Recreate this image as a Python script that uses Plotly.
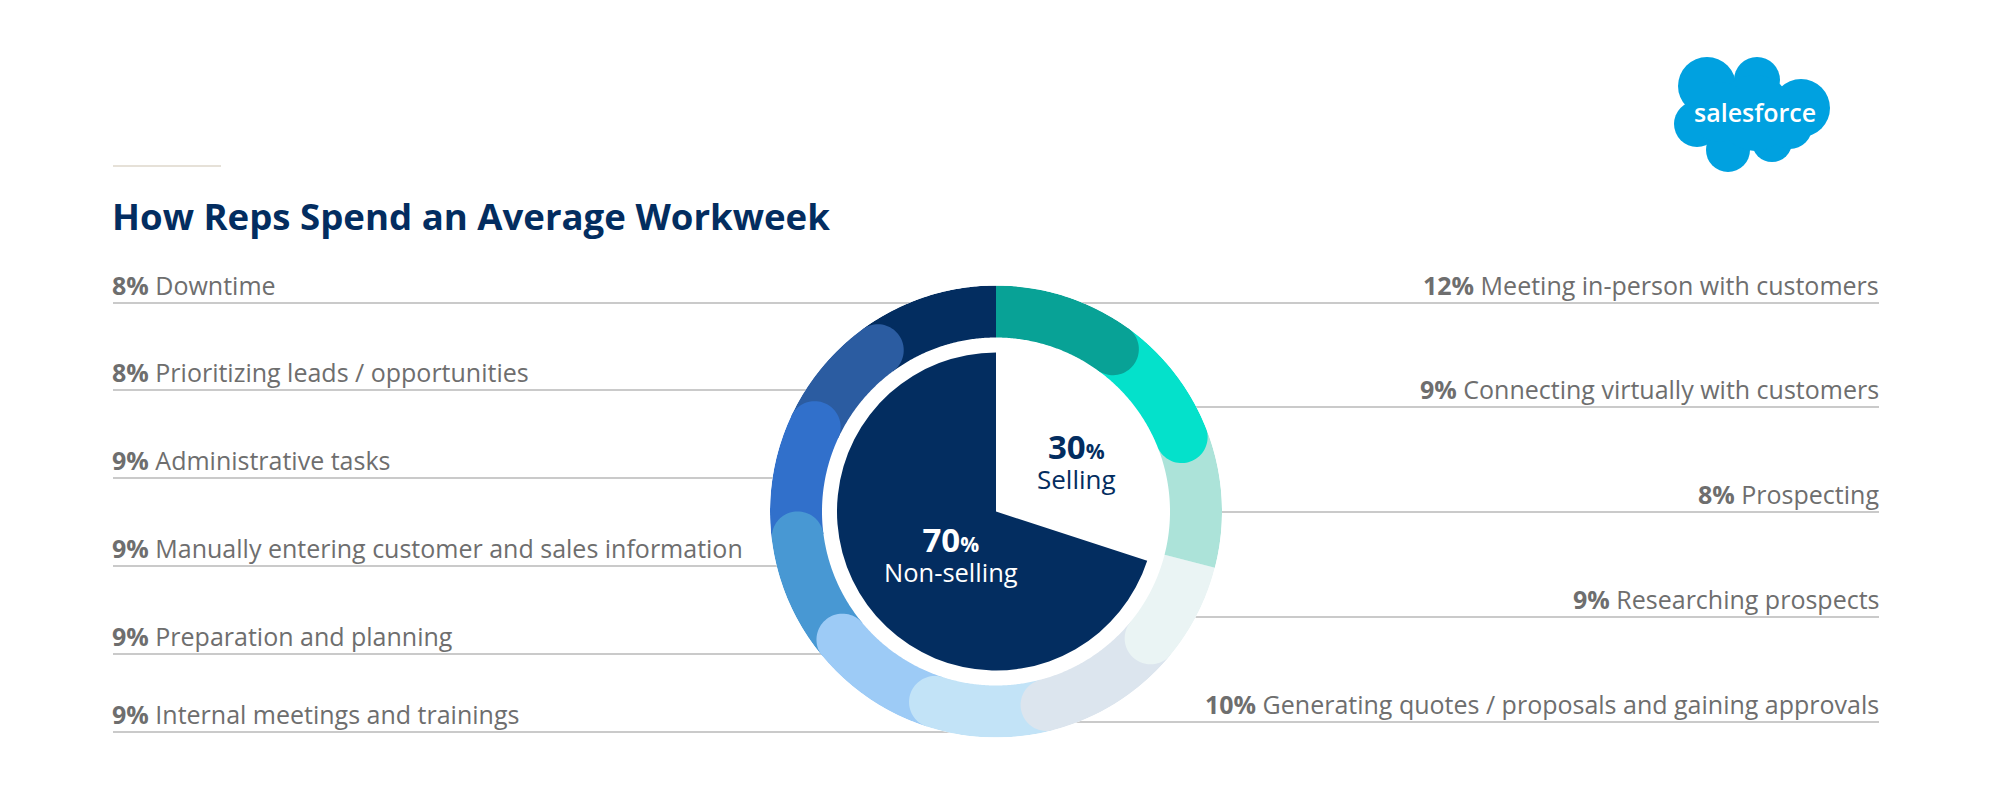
import numpy as np
import plotly.graph_objects as go

# ---------------- data ----------------
right_labels = ["Meeting in-person with customers", "Connecting virtually with customers",
                "Prospecting", "Researching prospects",
                "Generating quotes / proposals and gaining approvals"]
right_values = [12, 9, 8, 9, 10]
right_colors = ["#08A296", "#04E1CB", "#ACE3D9", "#EAF4F4", "#DCE5EE"]

left_labels = ["Downtime", "Prioritizing leads / opportunities", "Administrative tasks",
               "Manually entering customer and sales information",
               "Preparation and planning", "Internal meetings and trainings"]
left_values = [8, 8, 9, 9, 9, 9]
left_colors = ["#032D60", "#2B5CA1", "#3170CB", "#4898D3", "#9DCBF6", "#C2E3F7"]

summary_labels = ["Selling", "Non-selling"]
summary_values = [30, 70]

title = "How Reps Spend an Average Workweek"

# ---------------- layout constants (pixels of the page) ----------------
W, H = 2000, 807
OX, OY = 8, 8          # page body margin
CX, CY = 996, 511.5
R_OUT, R_IN, R_PIE = 226, 174, 159
R_MID = (R_OUT + R_IN) / 2
CAP = (R_OUT - R_IN) / 2
CAP_DEG = np.degrees(CAP / R_MID)

NAVY = "#032D60"
GRAY = "#6E6E6E"
LINE = "#CACACA"
FONT = "Open Sans"


def px(x):
    return (x - OX) / W


def py(y):
    return 1 - (y - OY) / H


# ring order: clockwise from 12 o'clock
ring_values = right_values + left_values[::-1]
ring_colors = right_colors + left_colors[::-1]
ring_names = right_labels + left_labels[::-1]
total = sum(ring_values)
ends = np.cumsum(ring_values) / total * 360
starts = np.concatenate([[0], ends[:-1]])
# segments with rounded clockwise ends (the "Prospecting" one and the last are straight)
capped = [True] * len(ring_values)
capped[2] = False
capped[-1] = False


def segment(a0, a1, cap):
    ae = a1 - (CAP_DEG if cap else 0.0)
    th = np.linspace(a0, ae, 80)
    r_list = list(np.full(th.size, R_OUT))
    t_list = list(th)
    if cap:
        a = np.radians(ae)
        n = np.array([np.sin(a), np.cos(a)])
        t = np.array([np.cos(a), -np.sin(a)])
        c = R_MID * n
        phi = np.linspace(0, np.pi, 40)
        pts = c[None, :] + CAP * (np.cos(phi)[:, None] * n[None, :] + np.sin(phi)[:, None] * t[None, :])
        r_list += list(np.hypot(pts[:, 0], pts[:, 1]))
        t_list += list(np.degrees(np.arctan2(pts[:, 0], pts[:, 1])) % 360)
    th2 = np.linspace(ae, a0, 80)
    r_list += list(np.full(th2.size, R_IN))
    t_list += list(th2)
    return r_list, t_list


fig = go.Figure()

# draw from last to first so each rounded end sits on top of the next segment
for i in range(len(ring_values) - 1, -1, -1):
    a0 = starts[i]
    if i > 0 and capped[i - 1]:
        a0 = a0 - CAP_DEG          # extend under the previous segment's rounded end
    r, t = segment(a0, ends[i], capped[i])
    fig.add_trace(go.Scatterpolar(r=r, theta=t, mode="lines", fill="toself",
                                  fillcolor=ring_colors[i], line=dict(width=0, color=ring_colors[i]),
                                  name=ring_names[i], hoverinfo="name", showlegend=False))

# inner pie
fig.add_trace(go.Pie(values=summary_values, labels=summary_labels, sort=False,
                     direction="clockwise", rotation=0,
                     marker=dict(colors=["#FFFFFF", NAVY], line=dict(width=0)),
                     textinfo="none", hoverinfo="label+value", showlegend=False,
                     domain=dict(x=[px(CX - R_PIE), px(CX + R_PIE)],
                                 y=[py(CY + R_PIE), py(CY - R_PIE)])))

shapes = []
annotations = []

# decorative short line above title
shapes.append(dict(type="line", xref="paper", yref="paper", x0=px(113), x1=px(221),
                   y0=py(166), y1=py(166), line=dict(color="#E6E1D8", width=2), layer="below"))

# title
annotations.append(dict(text="<b>" + title + "</b>", xref="paper", yref="paper",
                        x=px(110), y=py(216), xanchor="left", yanchor="middle", showarrow=False,
                        font=dict(family=FONT, size=36.6, color=NAVY)))

# left labels
left_y = [303, 390, 478, 566, 654, 732]
for lab, val, y in zip(left_labels, left_values, left_y):
    shapes.append(dict(type="line", xref="paper", yref="paper", x0=px(113), x1=px(CX),
                       y0=py(y), y1=py(y), line=dict(color=LINE, width=2), layer="below"))
    annotations.append(dict(text=f"<b>{val}%</b> {lab}", xref="paper", yref="paper",
                            x=px(110), y=py(y + 1), xanchor="left", yanchor="bottom",
                            showarrow=False, font=dict(family=FONT, size=25, color=GRAY)))

# right labels
right_y = [303, 407, 512, 617, 722]
for lab, val, y in zip(right_labels, right_values, right_y):
    shapes.append(dict(type="line", xref="paper", yref="paper", x0=px(CX), x1=px(1879),
                       y0=py(y), y1=py(y), line=dict(color=LINE, width=2), layer="below"))
    annotations.append(dict(text=f"<b>{val}%</b> {lab}", xref="paper", yref="paper",
                            x=px(1881), y=py(y + 1), xanchor="right", yanchor="bottom",
                            showarrow=False, font=dict(family=FONT, size=25, color=GRAY)))

# centre labels
annotations.append(dict(
    text=(f"<b><span style='font-size:33px'>{summary_values[0]}</span>"
          f"<span style='font-size:21px'>%</span></b><br>"
          f"<span style='font-size:26px'>{summary_labels[0]}</span>"),
    xref="paper", yref="paper", x=px(1076), y=py(460), xanchor="center", yanchor="middle",
    showarrow=False, font=dict(family=FONT, size=23, color=NAVY)))
annotations.append(dict(
    text=(f"<b><span style='font-size:33px'>{summary_values[1]}</span>"
          f"<span style='font-size:21px'>%</span></b><br>"
          f"<span style='font-size:25.5px'>{summary_labels[1]}</span>"),
    xref="paper", yref="paper", x=px(951), y=py(553), xanchor="center", yanchor="middle",
    showarrow=False, font=dict(family=FONT, size=23, color="#FFFFFF")))

# salesforce logo (cloud)
LOGO = "#00A1E0"
lobes = [(1707, 86, 29), (1757, 80, 23), (1801, 108, 29), (1697, 124, 23),
         (1728, 150, 22), (1772, 142, 20), (1755, 113, 38), (1790, 127, 22), (1720, 112, 30)]
for cx, cy, r in lobes:
    shapes.append(dict(type="circle", xref="paper", yref="paper",
                       x0=px(cx - r), x1=px(cx + r), y0=py(cy + r), y1=py(cy - r),
                       fillcolor=LOGO, line=dict(width=0), layer="above"))
annotations.append(dict(text="salesforce", xref="paper", yref="paper", x=px(1755), y=py(112),
                        xanchor="center", yanchor="middle", showarrow=False,
                        font=dict(family=FONT, size=25, color="#FFFFFF", weight=600)))

fig.update_layout(
    width=W, height=H, margin=dict(l=0, r=0, t=0, b=0),
    paper_bgcolor="#FFFFFF", plot_bgcolor="#FFFFFF",
    polar=dict(domain=dict(x=[px(CX - R_OUT), px(CX + R_OUT)], y=[py(CY + R_OUT), py(CY - R_OUT)]),
               bgcolor="#FFFFFF", hole=0,
               radialaxis=dict(range=[0, R_OUT], visible=False, showgrid=False),
               angularaxis=dict(visible=False, rotation=90, direction="clockwise", showgrid=False)),
    shapes=shapes, annotations=annotations, showlegend=False,
)

fig.write_html("out.html")
